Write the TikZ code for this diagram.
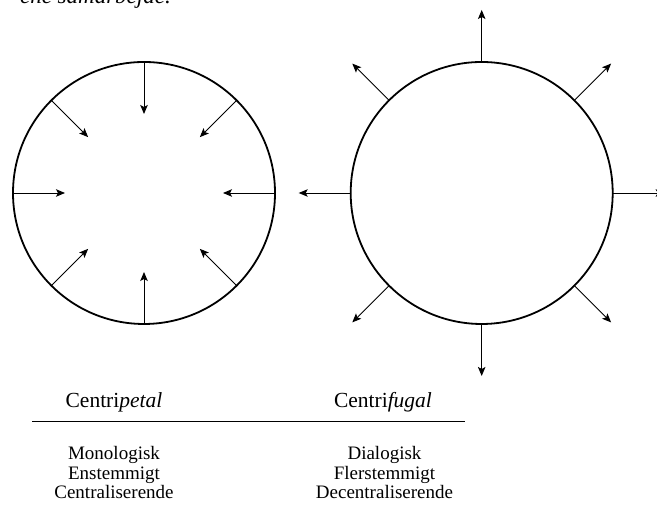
\documentclass[tikz,border=0pt]{standalone}
\usepackage{fontspec}
\setmainfont{Liberation Serif}
\usetikzlibrary{arrows.meta,calc}

\begin{document}
\begin{tikzpicture}[x=1pt,y=1pt,
  ring/.style={circle,draw,line width=1.8pt,minimum size=262pt,inner sep=0pt,outer sep=0pt},
  arr/.style={line width=0.9pt,-{Stealth[length=9pt,width=7.5pt,inset=2pt]}},
  rule/.style={line width=1pt},
  heading/.style={anchor=base,font=\fontsize{21.5}{24}\selectfont},
  word/.style={anchor=base,font=\fontsize{19}{21}\selectfont}]
\useasboundingbox (0,0) rectangle (657,510);

% running text from the page above the figure
\node[anchor=base east,inner sep=0pt,font=\fontsize{23}{26}\selectfont\itshape] (prev) at (171,506.5) {ene samarbejde.};

% the two circles
\node[ring] (L) at (144,317) {};
\node[ring] (R) at (481.7,317) {};

% centripetal: arrows pointing inwards
\foreach \a in {0,45,...,315}
  \draw[arr] (L.\a) -- ($(L.center)!79pt!(L.\a)$);

% centrifugal: arrows pointing outwards
\foreach \a in {0,45,...,315}
  \draw[arr] (R.\a) -- ($(R.center)!183pt!(R.\a)$);

% headings and rule
\node[heading] (cp) at (114,102) {Centri\textit{petal}};
\node[heading] (cf) at (383,102) {Centri\textit{fugal}};
\coordinate (ruleL) at (32,88);
\coordinate (ruleR) at (465,88);
\draw[rule] (ruleL) -- (ruleR);

% properties
\node[word] (m1) at (114,50) {Monologisk};
\node[word] (m2) at (114,30) {Enstemmigt};
\node[word] (m3) at (114,11) {Centraliserende};
\node[word] (d1) at (384.5,50) {Dialogisk};
\node[word] (d2) at (384.5,30) {Flerstemmigt};
\node[word] (d3) at (384.5,11) {Decentraliserende};
\end{tikzpicture}
\end{document}
